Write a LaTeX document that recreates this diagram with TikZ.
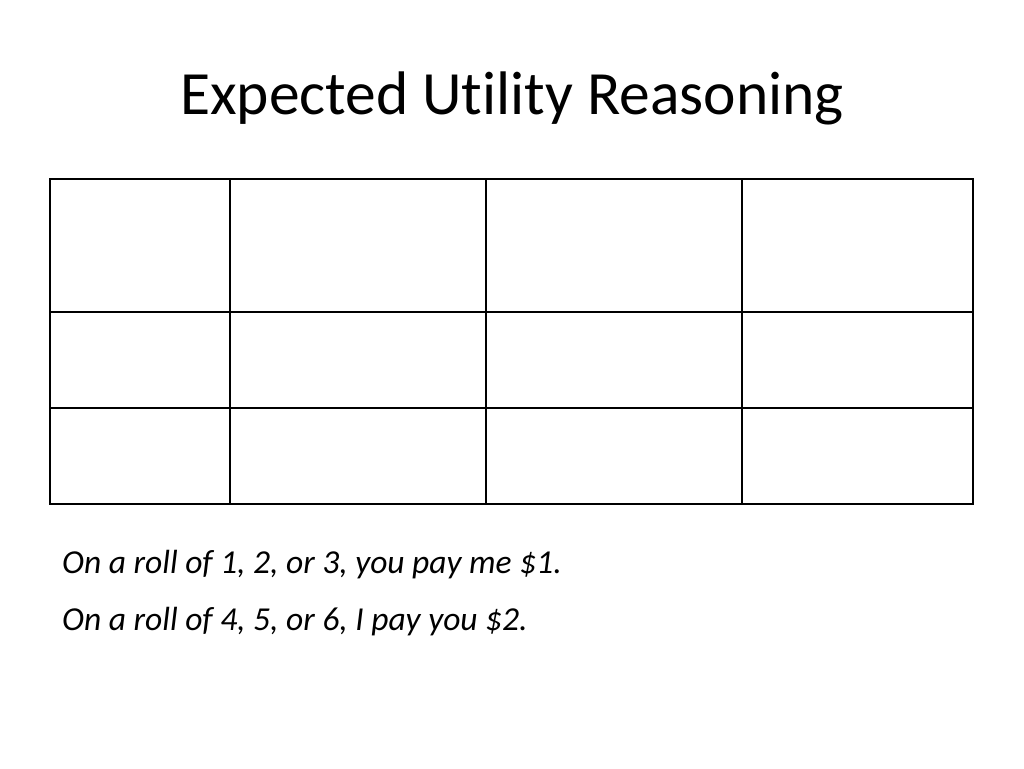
\documentclass[tikz,border=0pt]{standalone}
\usepackage{fontspec}
\setmainfont[Ligatures={NoCommon}]{Carlito}
\begin{document}
\begin{tikzpicture}[x=1pt,y=-1pt,
  body/.style={anchor=west,inner sep=0pt,font=\fontsize{33.5}{38}\selectfont\itshape}]
\useasboundingbox (0,0) rectangle (1024,768);
\node (title) at (512,98) {\fontsize{61.5}{70}\selectfont Expected Utility Reasoning};
\foreach \xa/\xb [count=\i] in {50/230,230/486,486/742,742/973}{
  \foreach \ya/\yb [count=\j] in {179/312,312/408,408/504}{
    \draw[line width=1.2pt] (\xa,\ya) rectangle (\xb,\yb);
  }
}
\node[body] (l1) at (62,565) {On a roll of 1, 2, or 3, you pay me \$1.};
\node[body] (l2) at (62,622) {On a roll of 4, 5, or 6, I pay you \$2.};
\end{tikzpicture}
\end{document}
